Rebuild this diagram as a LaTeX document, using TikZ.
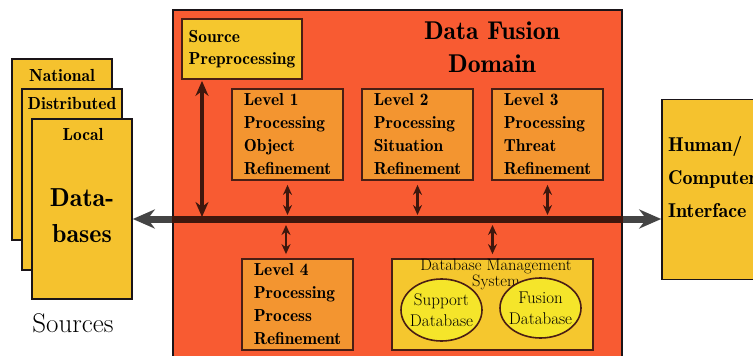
\documentclass[tikz,border=0pt]{standalone}
\usetikzlibrary{arrows.meta,shapes.geometric}
\definecolor{domainc}{HTML}{F85B32}
\definecolor{levelc}{HTML}{F39530}
\definecolor{yellowc}{HTML}{F5C72E}
\definecolor{ellc}{HTML}{F5E52A}
\definecolor{dbc}{HTML}{F5C22E}
\definecolor{edgec}{HTML}{4A1E14}
\definecolor{arrowc}{HTML}{3E170D}
\definecolor{busgray}{HTML}{444444}
\definecolor{inkc}{HTML}{1A1418}
\newcommand\demiw{\fontseries{b}\selectfont}
\begin{document}
\begin{tikzpicture}[x=1pt,y=-1pt,
  dbbox/.style={draw=inkc, line width=1.6pt, fill=dbc, inner sep=0pt, minimum width=100pt, minimum height=181pt},
  levelbox/.style={draw=edgec, line width=1.8pt, fill=levelc, inner sep=0pt, minimum width=111pt, minimum height=91pt, align=left, font=\fontsize{17.4}{23}\selectfont\demiw},
  srcbox/.style={draw=edgec, line width=1.8pt, fill=yellowc, inner sep=0pt, minimum width=120pt, minimum height=60pt, align=left, font=\fontsize{17.4}{22}\selectfont\demiw},
  dbell/.style={ellipse, draw=edgec, line width=1.6pt, fill=ellc, inner sep=0pt},
  elltext/.style={align=center, inner sep=0pt, font=\fontsize{17}{21}\selectfont},
  smallarrow/.style={line width=2.5pt, arrowc, {Stealth[length=10pt,width=9pt]}-{Stealth[length=10pt,width=9pt]}},
  bigarrow/.style={line width=4.5pt, arrowc, {Stealth[length=15pt,width=13pt]}-{Stealth[length=15pt,width=13pt]}},
  busline/.style={line width=7pt, busgray, {Stealth[length=22pt,width=19pt]}-{Stealth[length=22pt,width=19pt]}},
  srctext/.style={font=\fontsize{17.5}{18}\selectfont\demiw, inner sep=0pt}
]
\useasboundingbox (0,0) rectangle (753,356);

% Sources stack
\node[dbbox] (national) at (62,149.5) {};
\node[srctext] (nationalt) at (62,75) {National};
\node[dbbox] (distributed) at (72,179.5) {};
\node[srctext] (distributedt) at (72,103) {Distributed};
\node[dbbox, minimum height=180pt] (local) at (82,209) {};
\node[srctext] (localt) at (83,134) {Local};
\node[font=\fontsize{26}{36}\selectfont\demiw, align=center, inner sep=0pt] (databases) at (82,216) {Data-\\bases};
\node[font=\fontsize{27}{28}\selectfont, inner sep=0pt] (sources) at (73,323) {Sources};

% Domain
\node[draw=inkc, line width=1.4pt, fill=domainc, inner sep=0pt, minimum width=449pt, minimum height=356pt] (domain) at (397.5,188) {};
\node[font=\fontsize{25.7}{33}\selectfont\demiw, align=center, inner sep=0pt] (title) at (492,47) {Data Fusion\\Domain};

% HCI
\node[draw=inkc, line width=1.6pt, fill=dbc, inner sep=0pt, minimum width=100pt, minimum height=180pt] (hci) at (712,189.5) {};
\node[font=\fontsize{20}{33}\selectfont\demiw, align=left, inner sep=0pt, anchor=west] (hcit) at (668,177) {Human/\\Computer\\Interface};

% Boxes in domain
\node[srcbox] (src) at (242,49) {Source\\Preprocessing};
\node[levelbox] (l1) at (287.5,134.5) {Level 1\\Processing\\Object\\Refinement};
\node[levelbox] (l2) at (417.5,134.5) {Level 2\\Processing\\Situation\\Refinement};
\node[levelbox] (l3) at (547.5,134.5) {Level 3\\Processing\\Threat\\Refinement};
\node[levelbox] (l4) at (297.5,304.5) {Level 4\\Processing\\Process\\Refinement};
\node[draw=edgec, line width=1.8pt, fill=yellowc, inner sep=0pt, minimum width=201pt, minimum height=91pt] (dbms) at (492.5,304.5) {};
\node[font=\fontsize{16.5}{12}\selectfont, align=center, inner sep=0pt] (dbmst) at (496,274) {Database Management\\System};
\node[dbell, minimum width=81pt, minimum height=62pt] (support) at (441.5,310) {};
\node[elltext] (supportt) at (441.5,310) {Support\\Database};
\node[dbell, minimum width=81pt, minimum height=60pt] (fusion) at (540.5,308) {};
\node[elltext] (fusiont) at (540.5,308) {Fusion\\Database};

% Bus
\coordinate (bus) at (400,219);
\draw[busline] (local.east |- bus) -- (hci.west |- bus);
\draw[line width=7pt, arrowc] (domain.west |- bus) -- (domain.east |- bus);

% Arrows
\coordinate (srcx) at (202,0);
\draw[bigarrow, shorten <=1pt, shorten >=2pt] (srcx |- src.south) -- (srcx |- bus);
\draw[smallarrow, shorten <=4pt, shorten >=4pt] (l1.south) -- (l1.south |- bus);
\draw[smallarrow, shorten <=4pt, shorten >=4pt] (l2.south) -- (l2.south |- bus);
\draw[smallarrow, shorten <=4pt, shorten >=4pt] (l3.south) -- (l3.south |- bus);
\coordinate (l4x) at (286,0);
\draw[smallarrow, shorten <=6pt, shorten >=4pt] (l4x |- bus) -- (l4x |- l4.north);
\draw[smallarrow, shorten <=6pt, shorten >=4pt] (dbms.north |- bus) -- (dbms.north);
\end{tikzpicture}
\end{document}
